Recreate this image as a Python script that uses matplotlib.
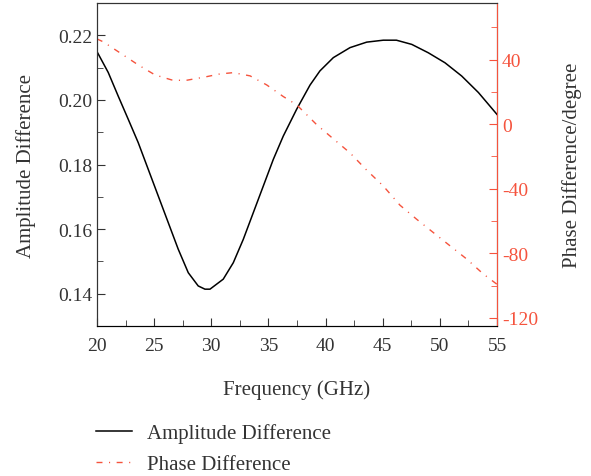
import numpy as np
import matplotlib.pyplot as plt
from matplotlib.ticker import MultipleLocator, FuncFormatter

plt.rcParams['font.family'] = ['Liberation Serif', 'DejaVu Serif']
plt.rcParams['font.size'] = 14

RED = '#f5533d'
GREY = '#333333'

# amplitude difference
freq_amp = [20.0, 20.99, 21.86, 22.74, 23.61, 24.49, 25.36, 26.24, 27.11, 27.99, 28.86, 29.45,
            29.89, 31.05, 31.93, 32.8, 33.68, 34.55, 35.43, 36.3, 37.47, 38.64, 39.51, 40.68,
            42.14, 43.6, 45.05, 46.2, 47.54, 48.99, 50.45, 51.91, 53.37, 55.0]
amp = [0.2150, 0.2085, 0.2012, 0.1940, 0.1868, 0.1785, 0.1703, 0.1620, 0.1538, 0.1465, 0.1424,
       0.1414, 0.1414, 0.1445, 0.1496, 0.1568, 0.1651, 0.1733, 0.1816, 0.1888, 0.1971, 0.2046,
       0.2090, 0.2131, 0.2162, 0.2179, 0.2185, 0.2185, 0.2172, 0.2146, 0.2115, 0.2074, 0.2023,
       0.1955]

# phase difference in degree
freq_ph = [20.0, 20.55, 21.86, 23.61, 25.08, 26.53, 27.7, 29.45, 30.76, 31.93, 33.4, 34.85,
           36.3, 37.47, 38.4, 39.22, 40.68, 42.14, 43.6, 45.05, 46.51, 47.97, 49.42, 50.88,
           52.34, 53.8, 55.0]
phase = [52.8, 51.0, 44.9, 36.7, 30.5, 27.4, 27.0, 29.2, 31.1, 31.9, 29.9, 24.3,
         17.1, 12.0, 5.5, -0.3, -9.1, -17.8, -28.5, -38.3, -50.2, -58.9, -67.1, -75.3,
         -83.5, -92.8, -99.2]

fig = plt.figure(figsize=(5.91, 4.77), dpi=100)
ax = fig.add_axes([0.164, 0.3145, 0.677, 0.677])
ax2 = ax.twinx()

l1, = ax.plot(freq_amp, amp, color='black', lw=1.1, label='Amplitude Difference')
l2, = ax2.plot(freq_ph, phase, color=RED, lw=1.0, ls=(0, (4.3, 4.7, 0.8, 4.7)),
               label='Phase Difference')

ax.set_xlim(20, 55)
ax.set_ylim(0.13, 0.23)
ax2.set_ylim(-125, 75)

ax.xaxis.set_major_locator(MultipleLocator(5))
ax.xaxis.set_minor_locator(MultipleLocator(2.5))
ax.yaxis.set_major_locator(MultipleLocator(0.02))
ax.yaxis.set_minor_locator(MultipleLocator(0.01))
ax2.yaxis.set_major_locator(MultipleLocator(40))
ax2.yaxis.set_minor_locator(MultipleLocator(20))
ax.yaxis.set_major_formatter(FuncFormatter(lambda v, p: '%.2f' % v))
ax2.yaxis.set_major_formatter(FuncFormatter(lambda v, p: '%d' % round(v)))

ax.tick_params(which='both', direction='in', top=False, colors=GREY, labelcolor=GREY)
ax.tick_params(which='major', length=6)
ax.tick_params(which='minor', length=4)
ax.tick_params(axis='x', pad=8)
ax2.tick_params(which='both', direction='in', colors=RED, labelcolor=RED)
ax2.tick_params(which='major', length=6)
ax2.tick_params(which='minor', length=4)
ax2.spines['right'].set_color(RED)
for s in ['left', 'bottom', 'top']:
    ax.spines[s].set_color(GREY)
ax2.spines['top'].set_color(GREY)
ax2.spines['left'].set_color(GREY)

ax.set_xlabel('Frequency (GHz)', color=GREY, labelpad=18, fontsize=15)
ax.set_ylabel('Amplitude Difference', color=GREY, fontsize=15, labelpad=16)
ax2.set_ylabel('Phase Difference/degree', color=GREY, fontsize=15, labelpad=17)

fig.legend(handles=[l1, l2], loc='lower left', bbox_to_anchor=(0.131, -0.036),
           frameon=False, handlelength=1.7, handletextpad=0.75, labelcolor=GREY,
           labelspacing=0.55, fontsize=15)

plt.savefig('out.png')
